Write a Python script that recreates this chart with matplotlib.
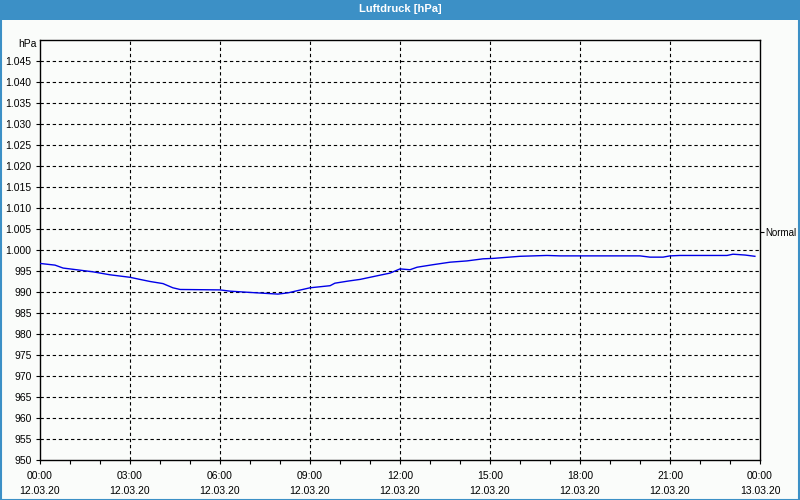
import matplotlib
matplotlib.use("Agg")
import matplotlib.pyplot as plt
from matplotlib.patches import Rectangle
from matplotlib.ticker import MultipleLocator

plt.rcParams['lines.scale_dashes'] = False
plt.rcParams['font.family'] = ['Liberation Sans', 'DejaVu Sans']

title = "Luftdruck [hPa]"
hours = [0.00, 0.5, 0.77, 1.33, 1.77, 2.33, 3.0, 3.33, 3.67, 4.1, 4.43, 4.67,
         6.0, 6.33, 7.0, 7.93, 8.27, 8.57, 9.0, 9.67, 9.83, 10.27, 10.67, 11.0,
         11.33, 11.67, 12.0, 12.33, 12.57, 13.1, 13.67, 14.23, 14.77, 15.1, 16.0,
         16.9, 17.33, 20.0, 20.33, 20.77, 21.0, 21.33, 22.9, 23.1, 23.5, 23.83]
pressure = [996.8, 996.4, 995.7, 995.2, 994.8, 994.1, 993.5, 993.0, 992.5, 992.0,
            991.0, 990.6, 990.5, 990.2, 989.9, 989.5, 989.8, 990.3, 991.0, 991.5,
            992.1, 992.6, 993.0, 993.5, 994.0, 994.5, 995.5, 995.3, 995.9, 996.5,
            997.1, 997.4, 997.9, 998.0, 998.5, 998.7, 998.6, 998.6, 998.3, 998.3,
            998.6, 998.7, 998.7, 999.0, 998.8, 998.5]
normal_value = 1004.3
y_ticks = list(range(950, 1050, 5))
y_labels = ["{:,}".format(v).replace(",", ".") for v in y_ticks]
x_ticks = [0, 3, 6, 9, 12, 15, 18, 21, 24]
x_labels = ["00:00\n12.03.20", "03:00\n12.03.20", "06:00\n12.03.20", "09:00\n12.03.20",
            "12:00\n12.03.20", "15:00\n12.03.20", "18:00\n12.03.20", "21:00\n12.03.20",
            "00:00\n13.03.20"]

bg = "#fafcfa"
blue_bar = "#3c90c6"
fs = 7.5

fig = plt.figure(figsize=(8, 5), dpi=100, facecolor=bg)
fig.patches.append(Rectangle((0, 0.96), 1, 0.04, transform=fig.transFigure,
                             facecolor=blue_bar, edgecolor="none", zorder=0))
fig.patches.append(Rectangle((0.001, 0.001), 0.998, 0.998, transform=fig.transFigure,
                             facecolor="none", edgecolor=blue_bar, linewidth=1.5, zorder=5))
fig.text(0.5, 0.981, title, color="white", fontsize=8, fontweight="bold",
         ha="center", va="center")

ax = fig.add_axes([0.05, 0.08, 0.90, 0.84])
ax.set_facecolor(bg)
ax.plot(hours, pressure, color="#0000e8", linewidth=1.0, zorder=3)

ax.set_xlim(0, 24)
ax.set_ylim(950, 1050)

ax.set_yticks(y_ticks)
ax.set_yticklabels(y_labels)
ax.set_xticks(x_ticks)
ax.set_xticklabels(x_labels, linespacing=1.65)
ax.xaxis.set_minor_locator(MultipleLocator(1))

ax.tick_params(axis="both", which="both", direction="out", length=3, width=0.8,
               labelsize=fs, colors="black", pad=3)
ax.tick_params(axis="x", which="major", pad=5)

for s in ax.spines.values():
    s.set_color("black")
    s.set_linewidth(1.0)

for v in y_ticks[1:]:
    ax.axhline(v, color="black", linewidth=0.8, linestyle=(0, (2.4, 2.0)), zorder=1)
for h in x_ticks[1:-1]:
    ax.axvline(h, color="black", linewidth=0.8, linestyle=(0, (2.4, 2.0)), zorder=1)

ax.text(-0.004, 1049, "hPa", transform=ax.get_yaxis_transform(), ha="right",
        va="center", fontsize=fs)

ax2 = ax.twinx()
ax2.set_ylim(950, 1050)
ax2.set_yticks([normal_value])
ax2.set_yticklabels(["Normal"])
ax2.tick_params(axis="y", direction="out", length=3, width=0.8, labelsize=7, pad=1)
for s in ax2.spines.values():
    s.set_visible(False)

fig.savefig("out.png", dpi=100, facecolor=bg)
